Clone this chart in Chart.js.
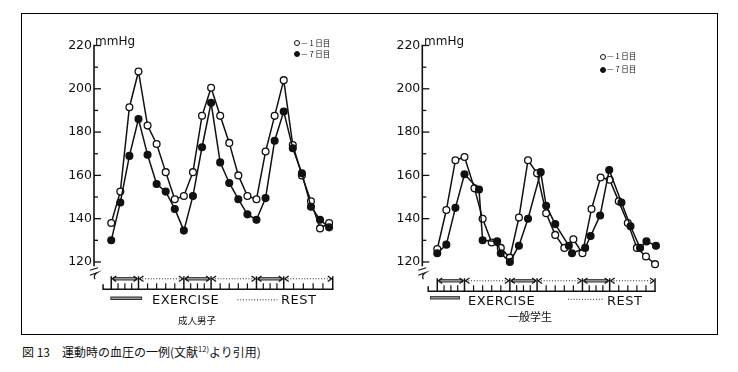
<!DOCTYPE html>
<html>
<head>
<meta charset="utf-8">
<script src="https://cdn.jsdelivr.net/npm/chart.js@4.4.1/dist/chart.umd.min.js"></script>
<style>
html,body{margin:0;padding:0;background:#fff;}
#page{position:relative;width:738px;height:372px;overflow:hidden;background:#fff;color:#111;font-family:"DejaVu Sans",sans-serif;}
#frame{position:absolute;left:21px;top:13px;width:697px;height:322px;border:1px solid #000;box-sizing:border-box;}
canvas{position:absolute;top:15px;}
#cL{left:22px;}
#cR{left:372px;}
.t{position:absolute;white-space:nowrap;line-height:1;}
.unit{font-family:"DejaVu Sans",sans-serif;font-size:12px;}
.ph{font-family:"DejaVu Sans",sans-serif;font-size:13px;letter-spacing:0.5px;}
.lg{font-family:"Noto Sans CJK JP",sans-serif;font-size:7.5px;}
.oc,.fc{display:inline-block;width:4px;height:4px;border:1.1px solid #111;border-radius:50%;vertical-align:middle;margin-right:1px;}
.oc{background:#fff;}
.fc{background:#111;}
.jp{font-family:"Noto Sans CJK JP",sans-serif;text-align:center;}
.cap{font-family:"Noto Sans CJK JP",sans-serif;font-size:12px;}
.cap sup{font-size:7.5px;vertical-align:5px;line-height:0;}
</style>
</head>
<body>
<div id="page">
  <div id="frame"></div>
  <canvas id="cL" width="350" height="318"></canvas>
  <canvas id="cR" width="344" height="318"></canvas>

  <div class="t unit" style="left:95px;top:35px;">mmHg</div>
  <div class="t lg" style="left:294px;top:38.5px;"><span class="oc"></span>— 1 日目</div>
  <div class="t lg" style="left:294px;top:49.5px;"><span class="fc"></span>— 7 日目</div>
  <div class="t ph" style="left:152px;top:293px;">EXERCISE</div>
  <div class="t ph" style="left:281px;top:293px;">REST</div>
  <div class="t jp" style="left:157px;width:80px;top:315.5px;font-size:9.5px;">成人男子</div>

  <div class="t unit" style="left:424px;top:35px;">mmHg</div>
  <div class="t lg" style="left:600px;top:52px;"><span class="oc"></span>— 1 日目</div>
  <div class="t lg" style="left:600px;top:65px;"><span class="fc"></span>— 7 日目</div>
  <div class="t ph" style="left:468px;top:294px;">EXERCISE</div>
  <div class="t ph" style="left:607px;top:294px;">REST</div>
  <div class="t jp" style="left:490px;width:80px;top:311px;font-size:11px;">一般学生</div>

  <div class="t cap" style="left:22px;top:346px;">図 13　運動時の血圧の一例(文献<sup>12)</sup>より引用)</div>
</div>
<script>
// ---------- data ----------
// time positions (sampling index along the exercise/rest protocol)
const timeLeft = [0,1,2,3,4,5,6,7,8,9,10,11,12,13,14,15,16,17,18,19,20,21,22,23,24];
// 成人男子 (adult men)
const adultDay1 = [138,152.5,191.5,208,183,174.5,161.5,149,150.5,161.5,187.5,200.5,187.5,175,160,150.5,149,171,187.5,204,174,160,148,135.5,138];
const adultDay7 = [130,147.5,169,186,169.5,156,152.5,144.5,134.5,150.5,173,193.5,166,156.5,149,142,139.5,149.5,176,189.5,172.5,161,145.5,139.5,136];
// 一般学生 (students)
const timeStudentDay1 = [0,1,2,3,4.1,5,6,7,8,9,10,11,12,13,14,15,16,17,18,19,20,21,22,23,24];
const studentDay1 = [126,144,167,168.5,154,140,129,126.5,122,140.5,167,161,142.5,132.5,126.5,130.5,124,144.5,159,158,148,138,126.5,122.5,119];
const timeStudentDay7 = [0,1,2,3,4.6,5,6.6,7,8,9,10,11.4,12,13,14.5,14.85,16.3,16.9,17.95,18.95,20.3,21.3,22.35,23.05,24.1];
const studentDay7 = [124,128,145,160.5,153.5,130,129.5,124,120,127.5,140,161.5,146,137.5,127.5,124,126.5,132,141.5,162.5,147.5,136.5,126.5,129.5,127.5];

const yTickLabels = [120,140,160,180,200,220];
const yTickMarks = [120,130,140,150,160,170,180,190,200,210,220];
// protocol phases along the time axis
const phaseKinds = ['EXERCISE','REST','EXERCISE','REST','EXERCISE','REST'];
const phaseBoundsLeft = [0,3,8,11,16,19,24.4];
const phaseBoundsRight = [0,3,8,11,16,19,24];
const seriesNames = ['1日目','7日目'];

// ---------- drawing ----------
const pts = (xs, ys) => ys.map((v, i) => ({x: xs[i], y: v}));

const paperAxes = {
  id: 'paperAxes',
  beforeDatasetsDraw(chart, args, o) {
    const {ctx, chartArea: ca, scales: {x, y}} = chart;
    const ax = ca.left;
    const L = (x1, y1, x2, y2) => { ctx.beginPath(); ctx.moveTo(x1, y1); ctx.lineTo(x2, y2); ctx.stroke(); };
    const X = v => x.getPixelForValue(v);
    ctx.save();
    ctx.strokeStyle = '#111'; ctx.fillStyle = '#111';
    // y axis
    ctx.lineWidth = 1.6;
    L(ax, y.getPixelForValue(220) - 0.8, ax, ca.bottom);
    ctx.lineWidth = 1.3;
    yTickMarks.forEach(v => { const py = y.getPixelForValue(v); L(ax, py, ax + (v % 20 === 0 ? 7 : 4), py); });
    // axis break
    const yb = ca.bottom;
    ctx.lineWidth = 1.2;
    L(ax - 4, yb + 4, ax + 4, yb + 1.5);
    ctx.beginPath(); ctx.moveTo(ax - 4, yb + 9); ctx.lineTo(ax + 3, yb + 6.5); ctx.quadraticCurveTo(ax - 1, yb + 9, ax + 1, yb + 13); ctx.stroke();
    // time axis
    const ty = ca.bottom + o.gap;
    const b = o.bounds;
    ctx.lineWidth = 1.5;
    L(X(o.start), ty, X(b[b.length - 1]) + 0.7, ty);
    L(X(o.start), ty + 0.7, X(o.start), ty - 5);
    ctx.lineWidth = 1.2;
    for (let i = 0; i < b.length - 1; i++) {
      const n = phaseKinds[i] === 'EXERCISE' ? 4 : 5;
      for (let k = 1; k < n; k++) { const px = X(b[i] + (b[i + 1] - b[i]) * k / n); L(px, ty, px, ty - 6); }
    }
    ctx.lineWidth = 1.5;
    b.forEach(v => { const px = X(v); L(px, ty, px, ty - 13); });
    // phase arrows
    const ay = ty - 10.5;
    for (let i = 0; i < b.length - 1; i++) {
      const x1 = X(b[i]) + 1, x2 = X(b[i + 1]) - 1;
      if (phaseKinds[i] === 'EXERCISE') {
        ctx.lineWidth = 3.4; ctx.strokeStyle = '#333'; L(x1 + 1, ay, x2 - 1, ay);
        ctx.lineWidth = 1.4; ctx.strokeStyle = '#9c9c9c'; L(x1 + 2, ay, x2 - 2, ay);
      } else {
        ctx.lineWidth = 1; ctx.strokeStyle = '#222'; ctx.setLineDash([1, 1.8]); L(x1, ay, x2, ay); ctx.setLineDash([]);
      }
      ctx.strokeStyle = '#111'; ctx.lineWidth = 1.2;
      L(x1, ay, x1 + 4, ay - 2.8); L(x1, ay, x1 + 4, ay + 2.8);
      L(x2, ay, x2 - 4, ay - 2.8); L(x2, ay, x2 - 4, ay + 2.8);
    }
    // legend symbols under the axis
    const ly = ty + o.legendGap;
    ctx.lineWidth = 3.4; ctx.strokeStyle = '#333'; L(X(o.barFrom), ly, X(o.barTo), ly);
    ctx.lineWidth = 1.4; ctx.strokeStyle = '#9c9c9c'; L(X(o.barFrom) + 1, ly, X(o.barTo) - 1, ly);
    ctx.lineWidth = 1; ctx.strokeStyle = '#222'; ctx.setLineDash([1, 1.8]);
    L(X(o.dotFrom), ly + 1.5, X(o.dotTo), ly + 1.5);
    ctx.setLineDash([]);
    ctx.restore();
  }
};

function dataset(label, xs, ys, filled) {
  return {
    label, data: pts(xs, ys), showLine: true, tension: 0, clip: false,
    borderColor: '#111', borderWidth: 1.5,
    pointRadius: 3.4, pointBorderWidth: 1.3,
    pointBackgroundColor: filled ? '#111' : '#fff', pointBorderColor: '#111'
  };
}

function makeChart(id, datasets, cfg) {
  return new Chart(document.getElementById(id), {
    type: 'scatter',
    data: { datasets },
    options: {
      responsive: false, animation: false, events: [],
      layout: { padding: cfg.padding },
      plugins: { legend: { display: false }, tooltip: { enabled: false }, paperAxes: cfg.axes },
      scales: {
        x: { type: 'linear', display: false, min: cfg.xMin, max: cfg.xMax },
        y: {
          type: 'linear', min: 118, max: 220, position: 'left',
          grid: { display: false, drawTicks: false }, border: { display: false },
          afterBuildTicks: s => { s.ticks = yTickLabels.map(v => ({ value: v })); },
          afterFit: s => { s.width = 30; },
          ticks: { padding: 2, color: '#111', font: { family: 'DejaVu Sans', size: 12.5 }, callback: v => String(v) }
        }
      }
    },
    plugins: [paperAxes]
  });
}

makeChart('cL', [
  dataset(seriesNames[1], timeLeft, adultDay7, true),
  dataset(seriesNames[0], timeLeft, adultDay1, false)
], {
  padding: { left: 42, right: 32, top: 30.5, bottom: 66.7 },
  xMin: -1.9, xMax: 25.2,
  axes: { gap: 23, legendGap: 9, start: -0.9, bounds: phaseBoundsLeft, barFrom: -0.1, barTo: 3.4, dotFrom: 13.9, dotTo: 18.3 }
});

makeChart('cR', [
  dataset(seriesNames[1], timeStudentDay7, studentDay7, true),
  dataset(seriesNames[0], timeStudentDay1, studentDay1, false)
], {
  padding: { left: 20.3, right: 46, top: 30.5, bottom: 66.7 },
  xMin: -1.65, xMax: 25.65,
  axes: { gap: 25, legendGap: 6.5, start: -1.0, bounds: phaseBoundsRight, barFrom: -0.8, barTo: 2.5, dotFrom: 14.4, dotTo: 18.3 }
});
</script>
</body>
</html>
